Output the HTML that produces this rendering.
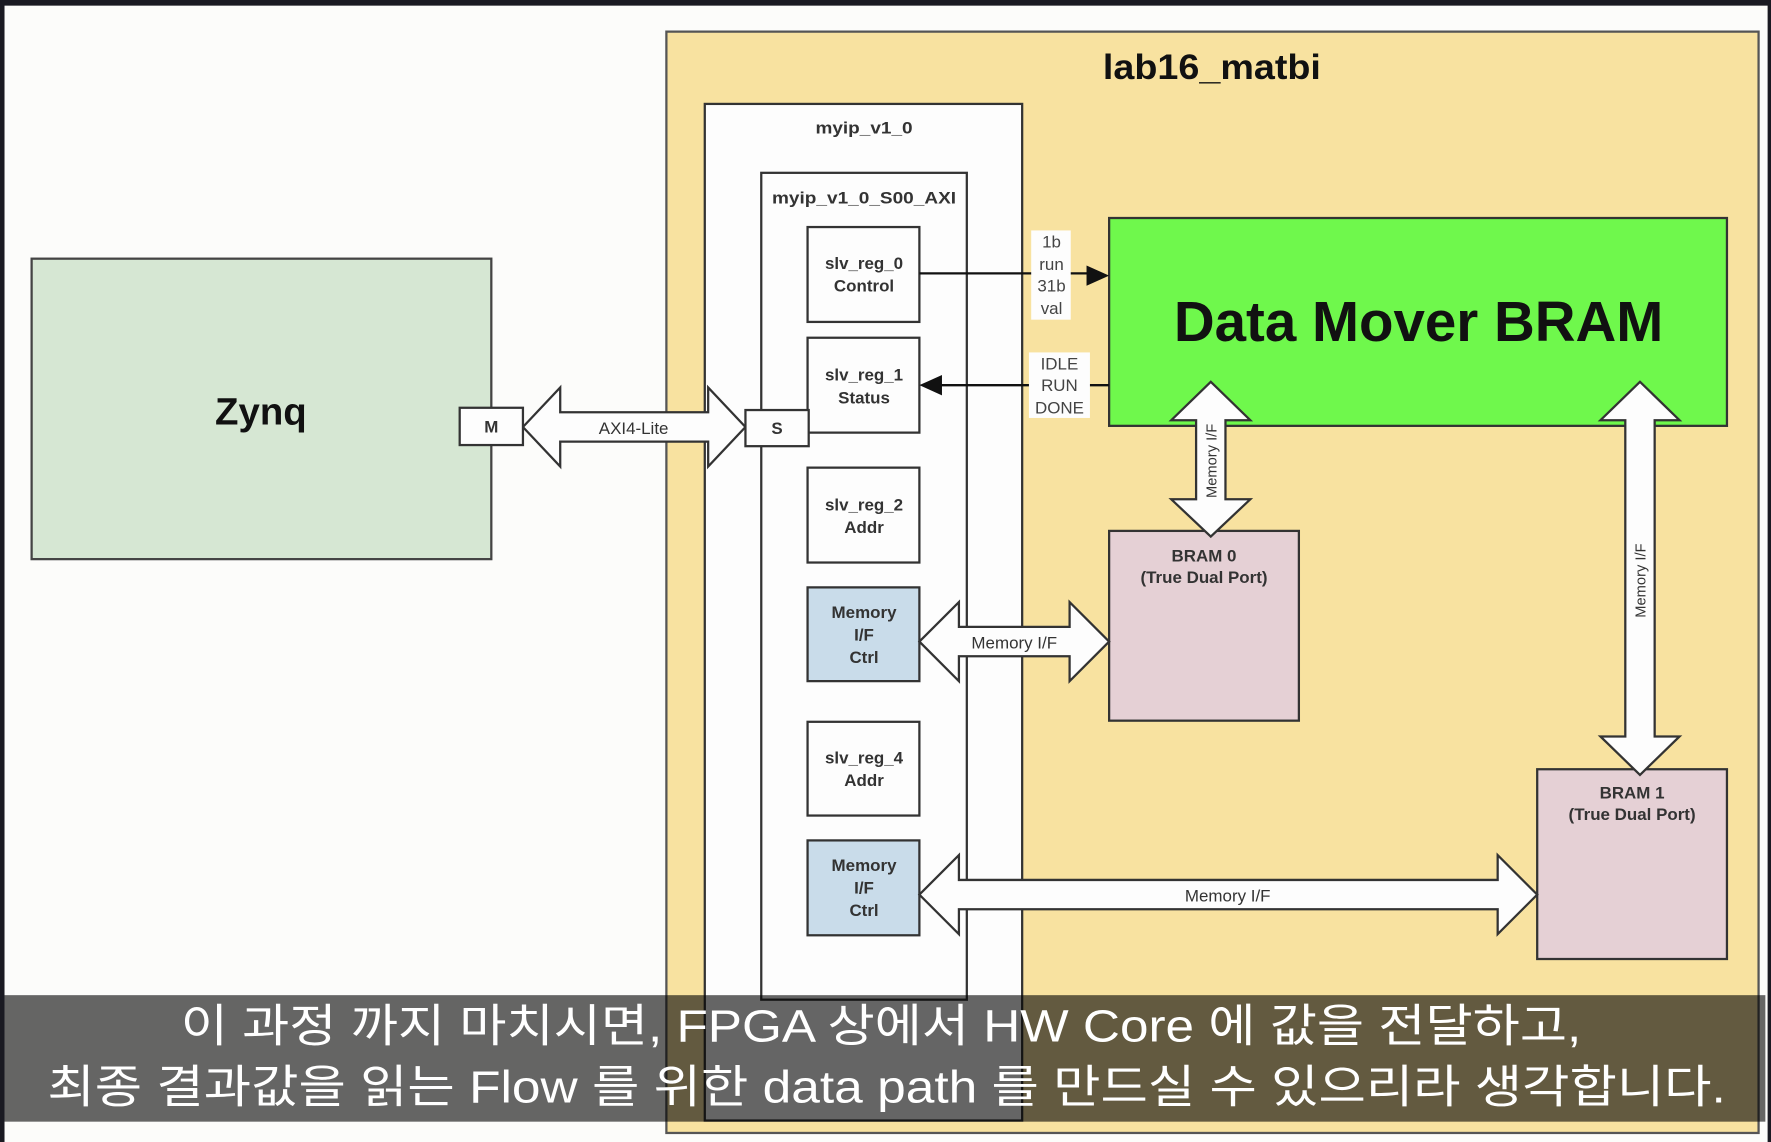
<!DOCTYPE html>
<html><head><meta charset="utf-8"><style>
html,body{margin:0;padding:0;background:#111;}
svg{display:block;}
text{font-family:"Liberation Sans","Noto Sans CJK KR",sans-serif;}
</style></head><body>
<svg width="1771" height="1142" viewBox="0 0 1568 1011" preserveAspectRatio="none" xmlns="http://www.w3.org/2000/svg">
<rect x="0" y="0" width="1568" height="1011" fill="#1a1a22"/>
<rect x="4" y="5" width="1561" height="1006" fill="#fcfcfa"/>
<rect x="590" y="28" width="967" height="975" fill="#f8e2a0" stroke="#555" stroke-width="2"/>
<text x="1073" y="70" font-size="31" font-weight="bold" text-anchor="middle" fill="#111" textLength="193" lengthAdjust="spacingAndGlyphs">lab16_matbi</text>
<rect x="624" y="92" width="281" height="900" fill="#fdfdfd" stroke="#333" stroke-width="2"/>
<text x="765" y="118" font-size="15" font-weight="bold" text-anchor="middle" fill="#333" textLength="86" lengthAdjust="spacingAndGlyphs">myip_v1_0</text>
<rect x="674" y="153" width="182" height="732" fill="#fdfdfd" stroke="#333" stroke-width="2"/>
<text x="765" y="180" font-size="15" font-weight="bold" text-anchor="middle" fill="#333" textLength="163" lengthAdjust="spacingAndGlyphs">myip_v1_0_S00_AXI</text>
<g stroke="#333" stroke-width="2">
<rect x="715" y="201" width="99" height="84" fill="#fdfdfd"/>
<rect x="715" y="299" width="99" height="84" fill="#fdfdfd"/>
<rect x="715" y="414" width="99" height="84" fill="#fdfdfd"/>
<rect x="715" y="520" width="99" height="83" fill="#c9dcea"/>
<rect x="715" y="639" width="99" height="83" fill="#fdfdfd"/>
<rect x="715" y="744" width="99" height="84" fill="#c9dcea"/>
</g>
<g font-size="15" font-weight="bold" text-anchor="middle" fill="#333">
<text x="765" y="238">slv_reg_0</text><text x="765" y="258">Control</text>
<text x="765" y="337">slv_reg_1</text><text x="765" y="357">Status</text>
<text x="765" y="452">slv_reg_2</text><text x="765" y="472">Addr</text>
<text x="765" y="547">Memory</text><text x="765" y="567">I/F</text><text x="765" y="587">Ctrl</text>
<text x="765" y="676">slv_reg_4</text><text x="765" y="696">Addr</text>
<text x="765" y="771">Memory</text><text x="765" y="791">I/F</text><text x="765" y="811">Ctrl</text>
</g>
<rect x="28" y="229" width="407" height="266" fill="#d6e7d3" stroke="#444" stroke-width="2"/>
<text x="231" y="376" font-size="34" font-weight="bold" text-anchor="middle" fill="#111">Zynq</text>
<polygon points="463,378 496,343 496,365 627,365 627,343 660,378 627,413 627,391 496,391 496,413" fill="#fdfdfd" stroke="#333" stroke-width="2"/>
<text x="561" y="384" font-size="15" text-anchor="middle" fill="#333">AXI4-Lite</text>
<rect x="407" y="361" width="56" height="33" fill="#fdfdfd" stroke="#333" stroke-width="2"/>
<text x="435" y="383" font-size="15" font-weight="bold" text-anchor="middle" fill="#333">M</text>
<rect x="660" y="363" width="56" height="32" fill="#fdfdfd" stroke="#333" stroke-width="2"/>
<text x="688" y="384" font-size="15" font-weight="bold" text-anchor="middle" fill="#333">S</text>
<rect x="982" y="193" width="547" height="184" fill="#6ff84c" stroke="#333" stroke-width="2"/>
<text x="1256" y="302" font-size="50" font-weight="bold" text-anchor="middle" fill="#111">Data Mover BRAM</text>
<line x1="814" y1="242" x2="964" y2="242" stroke="#111" stroke-width="2"/>
<polygon points="982,244 962,235 962,253" fill="#111"/>
<rect x="913" y="204" width="35" height="79" fill="#fdfdfd"/>
<g font-size="15" text-anchor="middle" fill="#444">
<text x="931" y="219">1b</text><text x="931" y="239">run</text><text x="931" y="258">31b</text><text x="931" y="278">val</text>
</g>
<line x1="832" y1="341" x2="982" y2="341" stroke="#111" stroke-width="2"/>
<polygon points="814,341 834,332 834,350" fill="#111"/>
<rect x="911" y="312" width="54" height="58" fill="#fdfdfd"/>
<g font-size="15" text-anchor="middle" fill="#444">
<text x="938" y="327">IDLE</text><text x="938" y="346">RUN</text><text x="938" y="366">DONE</text>
</g>
<rect x="982" y="470" width="168" height="168" fill="#e5d0d5" stroke="#333" stroke-width="2"/>
<text x="1066" y="497" font-size="15" font-weight="bold" text-anchor="middle" fill="#333">BRAM 0</text>
<text x="1066" y="516" font-size="15" font-weight="bold" text-anchor="middle" fill="#333">(True Dual Port)</text>
<rect x="1361" y="681" width="168" height="168" fill="#e5d0d5" stroke="#333" stroke-width="2"/>
<text x="1445" y="707" font-size="15" font-weight="bold" text-anchor="middle" fill="#333">BRAM 1</text>
<text x="1445" y="726" font-size="15" font-weight="bold" text-anchor="middle" fill="#333">(True Dual Port)</text>
<polygon points="1072,338 1107,372 1085,372 1085,442 1107,442 1072,475 1037,442 1059,442 1059,372 1037,372" fill="#fdfdfd" stroke="#333" stroke-width="2"/>
<text transform="translate(1077,408) rotate(-90)" font-size="13" text-anchor="middle" fill="#333">Memory I/F</text>
<polygon points="1452,338 1487,372 1465,372 1465,652 1487,652 1452,686 1417,652 1439,652 1439,372 1417,372" fill="#fdfdfd" stroke="#333" stroke-width="2"/>
<text transform="translate(1457,514) rotate(-90)" font-size="13" text-anchor="middle" fill="#333">Memory I/F</text>
<polygon points="814,568 849,533 849,555 947,555 947,533 982,568 947,603 947,581 849,581 849,603" fill="#fdfdfd" stroke="#333" stroke-width="2"/>
<text x="898" y="574" font-size="15" text-anchor="middle" fill="#333">Memory I/F</text>
<polygon points="814,792 849,757 849,779 1326,779 1326,757 1361,792 1326,827 1326,805 849,805 849,827" fill="#fdfdfd" stroke="#333" stroke-width="2"/>
<text x="1087" y="798" font-size="15" text-anchor="middle" fill="#333">Memory I/F</text>
<rect x="4" y="881" width="1559" height="112" fill="#000" fill-opacity="0.6"/>
<text x="160" y="922" font-size="40" fill="#fff" textLength="1240" lengthAdjust="spacingAndGlyphs">이 과정 까지 마치시면, FPGA 상에서 HW Core 에 값을 전달하고,</text>
<text x="42" y="976" font-size="40" fill="#fff" textLength="1486" lengthAdjust="spacingAndGlyphs">최종 결과값을 읽는 Flow 를 위한 data path 를 만드실 수 있으리라 생각합니다.</text>
</svg>
</body></html>
